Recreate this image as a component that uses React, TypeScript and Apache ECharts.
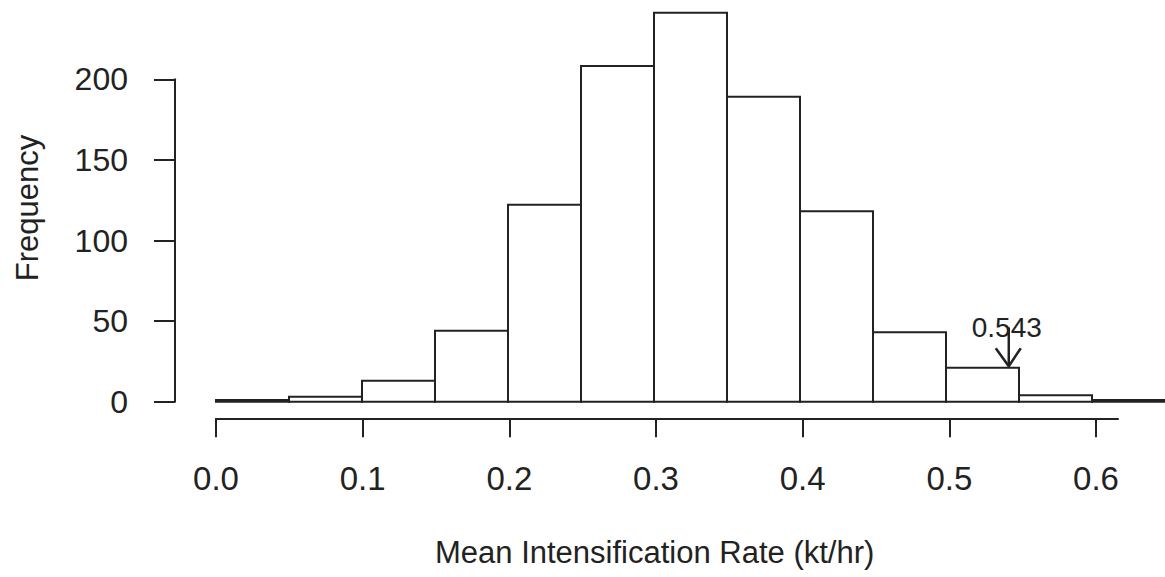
import React, { useEffect, useRef } from "react";
import * as echarts from "echarts";

// Histogram bin edges (kt/hr) and frequencies
const binEdges = [0.0, 0.05, 0.1, 0.15, 0.2, 0.25, 0.3, 0.35, 0.4, 0.45, 0.5, 0.55, 0.6, 0.65];
const counts = [1, 3, 13, 44, 122, 208, 241, 189, 118, 43, 21, 4, 1];

// Axis ticks
const yTicks = [0, 50, 100, 150, 200];
const xTicks = [0.0, 0.1, 0.2, 0.3, 0.4, 0.5, 0.6];

// Annotation
const markValue = 0.543;
const markLabel = "0.543";
const markTail = 46;
const markTip = 22;

const xTitle = "Mean Intensification Rate (kt/hr)";
const yTitle = "Frequency";

const INK = "#222";
const FONT = "'Liberation Sans', Arial, Helvetica, sans-serif";

export default function App() {
  const ref = useRef<HTMLDivElement>(null);

  useEffect(() => {
    if (!ref.current) return;
    const chart = echarts.init(ref.current, undefined, { renderer: "svg" });

    const histData = counts.map((c, i) => [binEdges[i], binEdges[i + 1], c]);

    const option: any = {
      animation: false,
      backgroundColor: "#fff",
      title: {
        text: xTitle,
        left: 435,
        top: 537,
        padding: 0,
        textStyle: { fontFamily: FONT, fontSize: 31, fontWeight: "normal", color: INK },
      },
      graphic: [
        {
          type: "text",
          x: 27,
          y: 208,
          rotation: Math.PI / 2,
          style: {
            text: yTitle,
            fontFamily: FONT,
            fontSize: 31,
            fill: INK,
            align: "center",
            verticalAlign: "middle",
          },
        },
      ],
      grid: [
        // main plotting grid
        { left: 216, width: 953.4, top: 6.3, height: 395.4 },
        // y axis grid (0..200)
        { left: 175, width: 10, top: 79.3, height: 322.4 },
        // x axis grid
        { left: 216, width: 902, top: 380, height: 38.3 },
      ],
      xAxis: [
        { gridIndex: 0, type: "value", min: 0, max: 0.65, show: false },
        { gridIndex: 1, type: "value", min: 0, max: 1, show: false },
        {
          gridIndex: 2,
          type: "value",
          min: 0,
          max: 0.615,
          position: "bottom",
          axisLine: { show: true, lineStyle: { color: INK, width: 2 } },
          axisTick: { show: true, length: 19, lineStyle: { color: INK, width: 2 }, customValues: xTicks },
          axisLabel: {
            show: true,
            customValues: xTicks,
            margin: 44,
            fontFamily: FONT,
            fontSize: 33,
            color: INK,
            formatter: (v: number) => v.toFixed(1),
          },
          splitLine: { show: false },
        },
      ],
      yAxis: [
        { gridIndex: 0, type: "value", min: 0, max: 245, show: false },
        {
          gridIndex: 1,
          type: "value",
          min: 0,
          max: 200,
          interval: 50,
          position: "left",
          axisLine: { show: true, lineStyle: { color: INK, width: 2 } },
          axisTick: { show: true, length: 21, lineStyle: { color: INK, width: 2 } },
          axisLabel: { show: true, margin: 47, fontFamily: FONT, fontSize: 32, color: INK },
          splitLine: { show: false },
        },
        { gridIndex: 2, type: "value", show: false },
      ],
      series: [
        {
          type: "custom",
          xAxisIndex: 0,
          yAxisIndex: 0,
          clip: false,
          data: histData,
          renderItem: (params: any, api: any) => {
            const x0 = api.value(0);
            const x1 = api.value(1);
            const c = api.value(2);
            const p0 = api.coord([x0, 0]);
            const p1 = api.coord([x1, c]);
            return {
              type: "rect",
              shape: { x: p0[0], y: p1[1], width: p1[0] - p0[0], height: p0[1] - p1[1] },
              style: { fill: "#fff", stroke: INK, lineWidth: 2 },
            };
          },
        },
        {
          type: "custom",
          xAxisIndex: 0,
          yAxisIndex: 0,
          clip: false,
          z: 5,
          data: [[markValue, markTail, markTip]],
          renderItem: (params: any, api: any) => {
            const x = api.value(0);
            const tail = api.coord([x, api.value(1)]);
            const tip = api.coord([x, api.value(2)]);
            return {
              type: "group",
              children: [
                {
                  type: "line",
                  shape: { x1: tail[0], y1: tail[1], x2: tip[0], y2: tip[1] },
                  style: { stroke: INK, lineWidth: 2.5 },
                },
                {
                  type: "polyline",
                  shape: {
                    points: [
                      [tip[0] - 13, tip[1] - 18],
                      [tip[0], tip[1]],
                      [tip[0] + 12, tip[1] - 18],
                    ],
                  },
                  style: { stroke: INK, lineWidth: 2.5, fill: "none" },
                },
                {
                  type: "text",
                  x: tail[0] - 2,
                  y: tail[1],
                  style: {
                    text: markLabel,
                    fontFamily: FONT,
                    fontSize: 28,
                    fill: INK,
                    align: "center",
                    verticalAlign: "middle",
                  },
                },
              ],
            };
          },
        },
      ],
    };

    chart.setOption(option);
    return () => chart.dispose();
  }, []);

  return (
    <div
      ref={ref}
      style={{ position: "absolute", left: 0, top: 0, width: 1165, height: 577, background: "#fff" }}
    />
  );
}
